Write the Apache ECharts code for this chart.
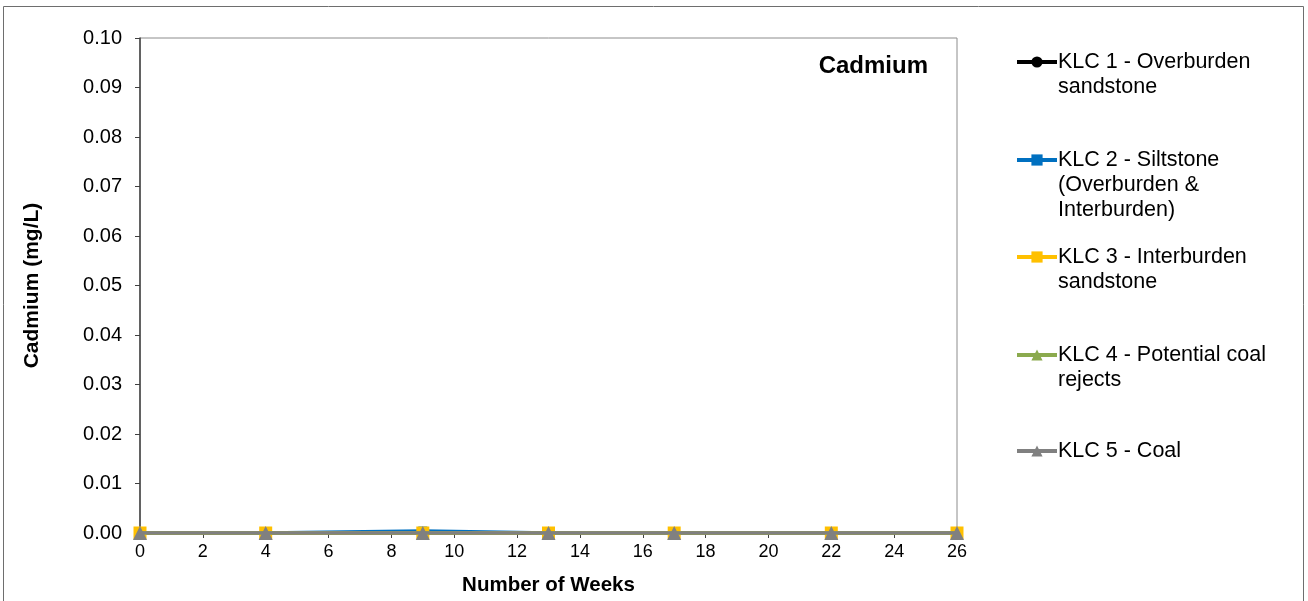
<!DOCTYPE html>
<html>
<head>
<meta charset="utf-8">
<script src="https://cdn.jsdelivr.net/npm/echarts@6/dist/echarts.min.js"></script>
<style>
html,body{margin:0;padding:0;background:#fff;}
#chart{width:1308px;height:601px;}
</style>
</head>
<body>
<div id="chart"></div>
<script>
// ---- data ----
const weeks = [0, 4, 9, 13, 17, 22, 26];
const klc1 = [0, 0, 0, 0, 0, 0, 0];
const klc2 = [0, 0, 0.0004, 0, 0, 0, 0];
const klc3 = [0, 0, 0, 0, 0, 0, 0];
const klc4 = [0, 0, 0, 0, 0, 0, 0];
const klc5 = [0, 0, 0, 0, 0, 0, 0];
const seriesNames = [
  'KLC 1 - Overburden sandstone',
  'KLC 2 - Siltstone (Overburden & Interburden)',
  'KLC 3 - Interburden sandstone',
  'KLC 4 - Potential coal rejects',
  'KLC 5 - Coal'
];
const legendLines = [
  ['KLC 1 - Overburden', 'sandstone'],
  ['KLC 2 - Siltstone', '(Overburden &', 'Interburden)'],
  ['KLC 3 - Interburden', 'sandstone'],
  ['KLC 4 - Potential coal', 'rejects'],
  ['KLC 5 - Coal']
];
const chartTitle = 'Cadmium';
const yAxisTitle = 'Cadmium (mg/L)';
const xAxisTitle = 'Number of Weeks';

// ---- styling ----
const FONT = 'Liberation Sans, Arial, sans-serif';
const colors = ['#000000', '#0070C0', '#FFC000', '#8BAA4E', '#808080'];
const symbols = ['circle', 'rect', 'rect', 'triangle', 'triangle'];
const symbolSizes = [8, 9, 13, 11, 14];
const allData = [klc1, klc2, klc3, klc4, klc5];
const legendIconY = [62, 160, 257, 355, 451];
const LH = 25;

function pairs(vals) { return weeks.map((w, i) => [w, vals[i]]); }

const series = allData.map((vals, i) => ({
  name: seriesNames[i],
  type: 'line',
  data: pairs(vals),
  symbol: symbols[i],
  symbolSize: symbolSizes[i],
  showAllSymbol: true,
  lineStyle: { color: colors[i], width: 3.5 },
  itemStyle: { color: colors[i] },
  emphasis: { disabled: true },
  animation: false,
  z: 2 + i
}));

const legends = seriesNames.map((name, i) => {
  const lines = legendLines[i];
  const pad = lines.length - 1;
  const all = new Array(pad).fill('').concat(lines);
  const total = all.length * LH;
  return {
    data: [name],
    left: 1015,
    top: legendIconY[i] - total / 2,
    padding: 0,
    itemWidth: 40,
    itemHeight: 14,
    itemGap: 3,
    selectedMode: false,
    lineStyle: { width: 4 },
    formatter: () => all.join('\n'),
    textStyle: { fontFamily: FONT, fontSize: 21.5, color: '#000', lineHeight: LH, padding: [0, 0, 0, -4] }
  };
});

const chart = echarts.init(document.getElementById('chart'), null, { renderer: 'canvas' });
chart.setOption({
  backgroundColor: '#fff',
  animation: false,
  title: {
    text: chartTitle,
    right: 380,
    top: 54,
    padding: 0,
    textStyle: { fontFamily: FONT, fontSize: 24, fontWeight: 'bold', color: '#000' }
  },
  legend: legends,
  grid: {
    left: 140, right: 351, top: 38, bottom: 66,
    show: true, borderColor: '#8C8C8C', borderWidth: 1, backgroundColor: 'transparent',
    containLabel: false
  },
  xAxis: {
    type: 'value', min: 0, max: 26, interval: 2,
    name: xAxisTitle, nameLocation: 'middle', nameGap: 42,
    nameTextStyle: { fontFamily: FONT, fontSize: 20.5, fontWeight: 'bold', color: '#000' },
    axisLine: { show: true, lineStyle: { color: '#404040', width: 1.5 } },
    axisTick: { show: true, length: 5, lineStyle: { color: '#404040' } },
    axisLabel: { fontFamily: FONT, fontSize: 18, color: '#000', margin: 10 },
    splitLine: { show: false }
  },
  yAxis: {
    type: 'value', min: 0, max: 0.1, interval: 0.01,
    name: yAxisTitle, nameLocation: 'middle', nameGap: 97, nameRotate: 90,
    nameTextStyle: { fontFamily: FONT, fontSize: 21, fontWeight: 'bold', color: '#000' },
    axisLine: { show: true, lineStyle: { color: '#404040', width: 1.5 } },
    axisTick: { show: true, length: 5, lineStyle: { color: '#404040' } },
    axisLabel: { fontFamily: FONT, fontSize: 20, color: '#000', margin: 18,
      formatter: v => v.toFixed(2) },
    splitLine: { show: false }
  },
  graphic: [{
    type: 'rect', silent: true, z: -10,
    shape: { x: 3.5, y: 6.5, width: 1300, height: 640 },
    style: { fill: 'none', stroke: '#6E6E6E', lineWidth: 1 }
  }],
  series: series
});
</script>
</body>
</html>
